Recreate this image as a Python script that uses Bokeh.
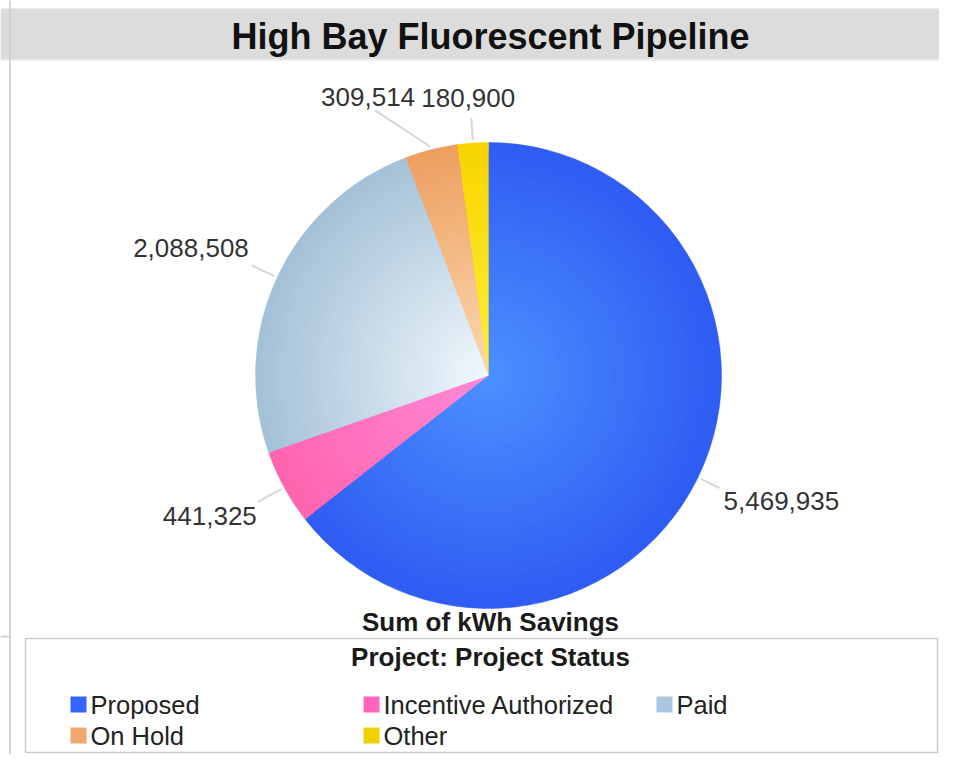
import numpy as np
from bokeh.plotting import figure
from bokeh.models import Range1d
from bokeh.core.properties import value
from bokeh.embed import file_html
from bokeh.resources import INLINE

# ---------------- data ----------------
title_text = "High Bay Fluorescent Pipeline"
measure_name = "Sum of kWh Savings"
legend_title = "Project: Project Status"
categories = ["Proposed", "Incentive Authorized", "Paid", "On Hold", "Other"]
values = [5469935, 441325, 2088508, 309514, 180900]

# ---------------- styles ----------------
center_colors = ["#4c92ff", "#ff8ad8", "#f3f9fd", "#fcdab2", "#fff03a"]
edge_colors = ["#2f5cf2", "#ff64ae", "#a4c1d7", "#eda060", "#f6d400"]
legend_colors = ["#3366ff", "#ff66bb", "#a9c7de", "#f0a870", "#f0d000"]
# label leader geometry (page pixels): radial extension, nudge of line end, text offset
label_ext = [24, 30, 28, 25, 25]
line_nudge = [(0, 0), (0, 0), (0, 0), (-50, -15), (0, 0)]
text_offset = [(4, 13), (-1, 14), (-3, -17), (-7, -13), (-3, -20)]
text_aligns = ["left", "right", "right", "center", "center"]
FONT = "Liberation Sans"

W, H = 939, 754
CX, CY, R = 488, 375, 233   # pie centre / radius in page pixels


def Y(py):
    return 770 - py


p = figure(width=W, height=H, x_range=Range1d(0, W), y_range=Range1d(770 - H, 770),
           output_backend="svg", toolbar_location=None, min_border=0,
           x_axis_location=None, y_axis_location=None)
p.grid.visible = False
p.outline_line_color = None
p.background_fill_color = "white"
p.border_fill_color = "white"

# title bar
p.quad(left=0, right=W, top=Y(8), bottom=Y(59), fill_color="#dcdcdc", line_color=None)
p.segment(x0=0, y0=Y(59.5), x1=W, y1=Y(59.5), line_color="#e6e6e6", line_width=1)
p.segment(x0=9.5, y0=Y(0), x1=9.5, y1=Y(770), line_color="#c8c8c8", line_width=1.5)
p.segment(x0=0, y0=Y(636), x1=9.5, y1=Y(636), line_color="#c8c8c8", line_width=1.5)
p.text(x=[490], y=[Y(36)], text=[title_text], text_font=value(FONT), text_font_style="bold",
       text_font_size="36px", text_align="center", text_baseline="middle", text_color="#111111")

# pie with radial shading
vals = np.array(values, dtype=float)
frac = vals / vals.sum()
cum = np.concatenate([[0.0], np.cumsum(frac)])
start = np.pi / 2 - 2 * np.pi * cum[:-1]
end = np.pi / 2 - 2 * np.pi * cum[1:]


def hex2rgb(h):
    h = h.lstrip("#")
    return np.array([int(h[i:i + 2], 16) for i in (0, 2, 4)], dtype=float)


def mix(c0, c1, t):
    c = hex2rgb(c0) * (1 - t) + hex2rgb(c1) * t
    return "#%02x%02x%02x" % tuple(int(round(v)) for v in c)


N = 36
for k in range(N, 0, -1):
    t = k / N
    cols = [mix(c0, c1, t) for c0, c1 in zip(center_colors, edge_colors)]
    p.wedge(x=CX, y=Y(CY), radius=R * t, start_angle=start, end_angle=end,
            direction="clock", fill_color=cols, line_color=cols if k == N else None,
            line_width=0.5)

# labels with leader lines
mid = 2 * np.pi * (cum[:-1] + cum[1:]) / 2   # clockwise from top
dx = np.sin(mid)
dy = -np.cos(mid)   # page y downward
for i, v in enumerate(values):
    ex, ey = CX + (R + 3) * dx[i], CY + (R + 3) * dy[i]
    ax = CX + (R + label_ext[i]) * dx[i] + line_nudge[i][0]
    ay = CY + (R + label_ext[i]) * dy[i] + line_nudge[i][1]
    p.segment(x0=ex, y0=Y(ey), x1=ax, y1=Y(ay), line_color="#d6d6d6", line_width=2)
    p.text(x=[ax + text_offset[i][0]], y=[Y(ay + text_offset[i][1])], text=[f"{v:,}"],
           text_font=value(FONT), text_font_size="26px", text_align=text_aligns[i],
           text_baseline="middle", text_color="#333333")

# measure name
p.text(x=[490], y=[Y(621)], text=[measure_name], text_font=value(FONT), text_font_style="bold",
       text_font_size="26px", text_align="center", text_baseline="middle", text_color="#1a1a1a")

# legend box
p.quad(left=25, right=W - 2, top=Y(638), bottom=Y(752), fill_color=None,
       line_color="#cccccc", line_width=1.5)
p.text(x=[490], y=[Y(656)], text=[legend_title], text_font=value(FONT), text_font_style="bold",
       text_font_size="26px", text_align="center", text_baseline="middle", text_color="#1a1a1a")

col_x = [70, 363, 656]
row_y = [704, 735]
for i, name in enumerate(categories):
    lx = col_x[i % 3]
    ly = row_y[i // 3]
    p.quad(left=lx, right=lx + 16, top=Y(ly - 8), bottom=Y(ly + 8),
           fill_color=legend_colors[i], line_color=None)
    p.text(x=[lx + 20], y=[Y(ly)], text=[name], text_font=value(FONT),
           text_font_size="25.5px", text_align="left", text_baseline="middle", text_color="#222222")

open("out.html", "w").write(file_html(p, INLINE))
